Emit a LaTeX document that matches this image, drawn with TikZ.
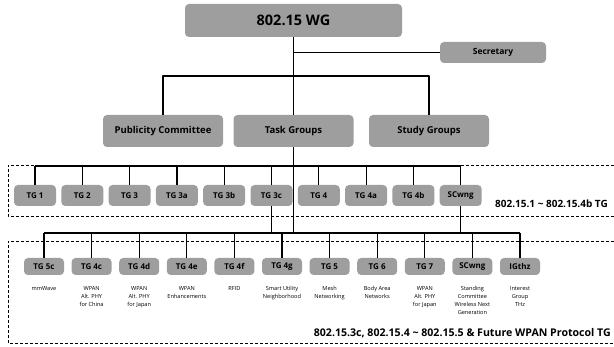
\documentclass[tikz,border=0pt]{standalone}
\usepackage{fontspec}
\setmainfont{Open Sans}
\usetikzlibrary{positioning}
\tikzset{
	box/.style={fill=black!38,rounded corners=4pt,inner sep=0pt,font=\bfseries},
	bigbox/.style={box,minimum width=120pt,minimum height=32pt,font=\fontsize{9.5}{11}\selectfont\bfseries},
	upbox/.style={box,minimum width=42pt,minimum height=21pt,font=\fontsize{8}{9}\selectfont\bfseries},
	lowbox/.style={box,minimum width=40pt,minimum height=17pt,font=\fontsize{8}{9}\selectfont\bfseries},
	desc/.style={align=center,inner sep=0pt,font=\fontsize{5.6}{8}\selectfont},
	conn/.style={line width=1.2pt},
	frame/.style={line width=.9pt,dash pattern=on 3pt off 2pt},
	tglabel/.style={anchor=east,inner sep=0pt,font=\fontsize{10}{12}\selectfont\bfseries}
}
\begin{document}
\begin{tikzpicture}[x=1pt,y=-1pt,line join=round]
				\useasboundingbox (0,0) rectangle (614,347);
				% dashed frames
				\draw[frame] (614,165) -| (8,216) -- (614,216);
				\draw[frame] (614,241) -| (8,343) -- (614,343);
				\node[tglabel] (ulab) at (608,204) {802.15.1 \textasciitilde{} 802.15.4b TG};
				\node[tglabel,font=\fontsize{10.6}{12}\selectfont\bfseries] (llab) at (611,333) {802.15.3c, 802.15.4 \textasciitilde{} 802.15.5 \& Future WPAN Protocol TG};
				% top of the tree
				\node[box,minimum width=217pt,minimum height=33pt,font=\fontsize{14.5}{16}\selectfont\bfseries] (wg) at (293.5,20.5) {802.15 WG};
				\node[box,minimum width=106pt,minimum height=21pt,font=\fontsize{8.5}{10}\selectfont\bfseries] (sec) at (493,52.5) {Secretary};
				\node[bigbox] (pub) at (163,131) {Publicity Committee};
				\node[bigbox] (tg) at (293.5,131) {Task Groups};
				\node[bigbox] (sg) at (429,131) {Study Groups};
				\coordinate (wgbus) at (293.5,76);
				\coordinate (ubus) at (0,166);
				\coordinate (lbus) at (0,233);
				% task group rows
				\foreach \i/\g in {1/TG 1,2/TG 2,3/TG 3,4/TG 3a,5/TG 3b,6/TG 3c,7/TG 4,8/TG 4a,9/TG 4b,10/SCwng}
					\node[upbox] (u\i) at ({35+47.3*(\i-1)},195.5) {\g};
				\foreach \i/\g/\d in {1/TG 5c/mmWave,2/TG 4c/WPAN\\Alt. PHY\\for China,3/TG 4d/WPAN\\Alt. PHY\\for Japan,4/TG 4e/WPAN\\Enhancements,5/TG 4f/RFID,6/TG 4g/Smart Utility\\Neighborhood,7/TG 5/Mesh\\Networking,8/TG 6/Body Area\\Networks,9/TG 7/WPAN\\Alt. PHY\\for Japan,10/SCwng/Standing\\Committee\\Wireless Next\\Generation,11/IGthz/Interest\\Group\\THz}{
					\node[lowbox] (l\i) at ({44+47.6*(\i-1)},266.5) {\g};
					\node[desc,below=11pt of l\i] (d\i) {\d};}
				% connectors
				\draw[conn] (wg.south) -- (wgbus);
				\draw[conn] (wg.south |- sec) -- (sec.west);
				\draw[conn] (pub.north) |- (sg.north |- wgbus) -- (sg.north);
				\draw[conn] (tg.north) -- (wgbus);
				\draw[conn] (tg.south) -- (tg.south |- lbus);
				\draw[conn] (u1.north |- ubus) -- (u10.north |- ubus);
				\foreach \i in {1,...,10}\draw[conn] (u\i.north) -- (u\i.north |- ubus);
				\draw[conn] (u6.south) -- (u6.south |- lbus);
				\draw[conn] (u10.south) -- (u10.south |- lbus);
				\draw[conn] (l1.north |- lbus) -- (l11.north |- lbus);
				\foreach \i in {1,...,11}\draw[conn] (l\i.north) -- (l\i.north |- lbus);
\end{tikzpicture}
\end{document}
